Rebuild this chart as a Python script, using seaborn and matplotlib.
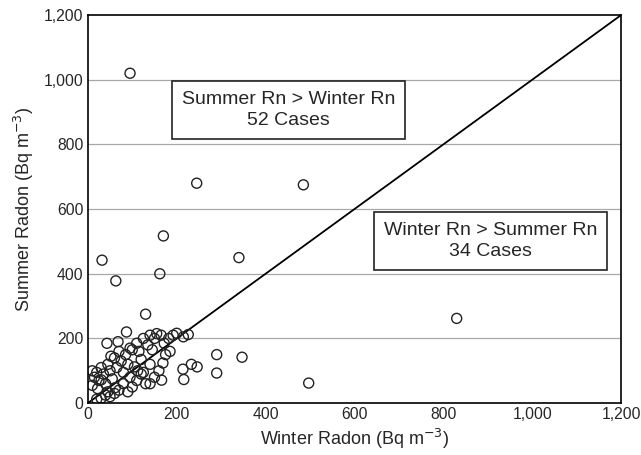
import seaborn as sns
import matplotlib.pyplot as plt
import pandas as pd
from matplotlib.ticker import FuncFormatter, MultipleLocator

# winter / summer radon (Bq m-3)
winter_hi = [95, 245, 485, 32, 170, 162, 340, 63, 130, 87, 43, 68, 100,
             10, 15, 20, 25, 30, 35, 40, 45, 50, 55, 60, 65, 70, 75, 80,
             85, 90, 95, 110, 115, 120, 125, 135, 140, 145, 150, 155, 165,
             172, 182, 192, 200, 215, 226, 10, 22, 30, 52, 105]
summer_hi = [1020, 680, 675, 442, 517, 400, 450, 378, 275, 220, 185, 190, 165,
             100, 80, 95, 70, 110, 90, 60, 120, 100, 75, 140, 110, 160, 130, 95,
             150, 120, 170, 185, 160, 135, 200, 180, 210, 165, 200, 215, 210,
             185, 200, 210, 216, 205, 212, 55, 45, 72, 145, 112]

winter_lo = [830, 497, 347, 290, 290, 214, 233, 246, 216, 169, 166, 185,
             175, 160, 150, 140, 130, 120, 110, 100, 90, 80, 70, 60, 50, 40,
             30, 20, 62, 45, 112, 125, 140, 95]
summer_lo = [262, 62, 142, 150, 93, 105, 120, 112, 73, 124, 71, 160,
             150, 100, 80, 120, 60, 90, 70, 50, 35, 60, 40, 30, 20, 25,
             15, 12, 48, 35, 100, 95, 60, 80]

df = pd.DataFrame({"winter": winter_hi + winter_lo,
                   "summer": summer_hi + summer_lo})

sns.set_style("white")
plt.rcParams['font.family'] = ['Liberation Sans', 'DejaVu Sans']

fig = plt.figure(figsize=(6.41, 4.55), dpi=100)
ax = fig.add_axes([0.137, 0.114, 0.832, 0.853])

for v in range(200, 1200, 200):
    ax.axhline(v, color="#a8a8a8", lw=0.9, zorder=0)

ax.plot([0, 1200], [0, 1200], color="black", lw=1.3, zorder=1)

sns.scatterplot(data=df, x="winter", y="summer", ax=ax, marker="o",
                s=52, facecolors="none", edgecolor="#222222", linewidth=1.0,
                zorder=2, legend=False)

ax.set_xlim(0, 1200)
ax.set_ylim(0, 1200)
ax.xaxis.set_major_locator(MultipleLocator(200))
ax.yaxis.set_major_locator(MultipleLocator(200))
ax.yaxis.set_minor_locator(MultipleLocator(100))
fmt = FuncFormatter(lambda v, p: f"{int(v):,}")
ax.xaxis.set_major_formatter(fmt)
ax.yaxis.set_major_formatter(fmt)
ax.tick_params(axis="both", which="major", direction="in", length=5,
               width=1, labelsize=11.3, color="black", pad=3)
ax.tick_params(axis="y", which="minor", direction="in", length=3, width=0.8)
for s in ax.spines.values():
    s.set_color("black")
    s.set_linewidth(1.2)

ax.set_xlabel("Winter Radon (Bq m$^{-3}$)", fontsize=13, labelpad=3)
ax.set_ylabel("Summer Radon (Bq m$^{-3}$)", fontsize=13, labelpad=6)

box = dict(boxstyle="square,pad=0.5", fc="white", ec="#222222", lw=1.2)
ax.text(452, 906, "Summer Rn > Winter Rn\n52 Cases", ha="center", va="center",
        fontsize=14, bbox=box, zorder=3, linespacing=1.3)
ax.text(906, 501, "Winter Rn > Summer Rn\n34 Cases", ha="center", va="center",
        fontsize=14, bbox=box, zorder=3, linespacing=1.3)

fig.savefig("out.png", dpi=100)
